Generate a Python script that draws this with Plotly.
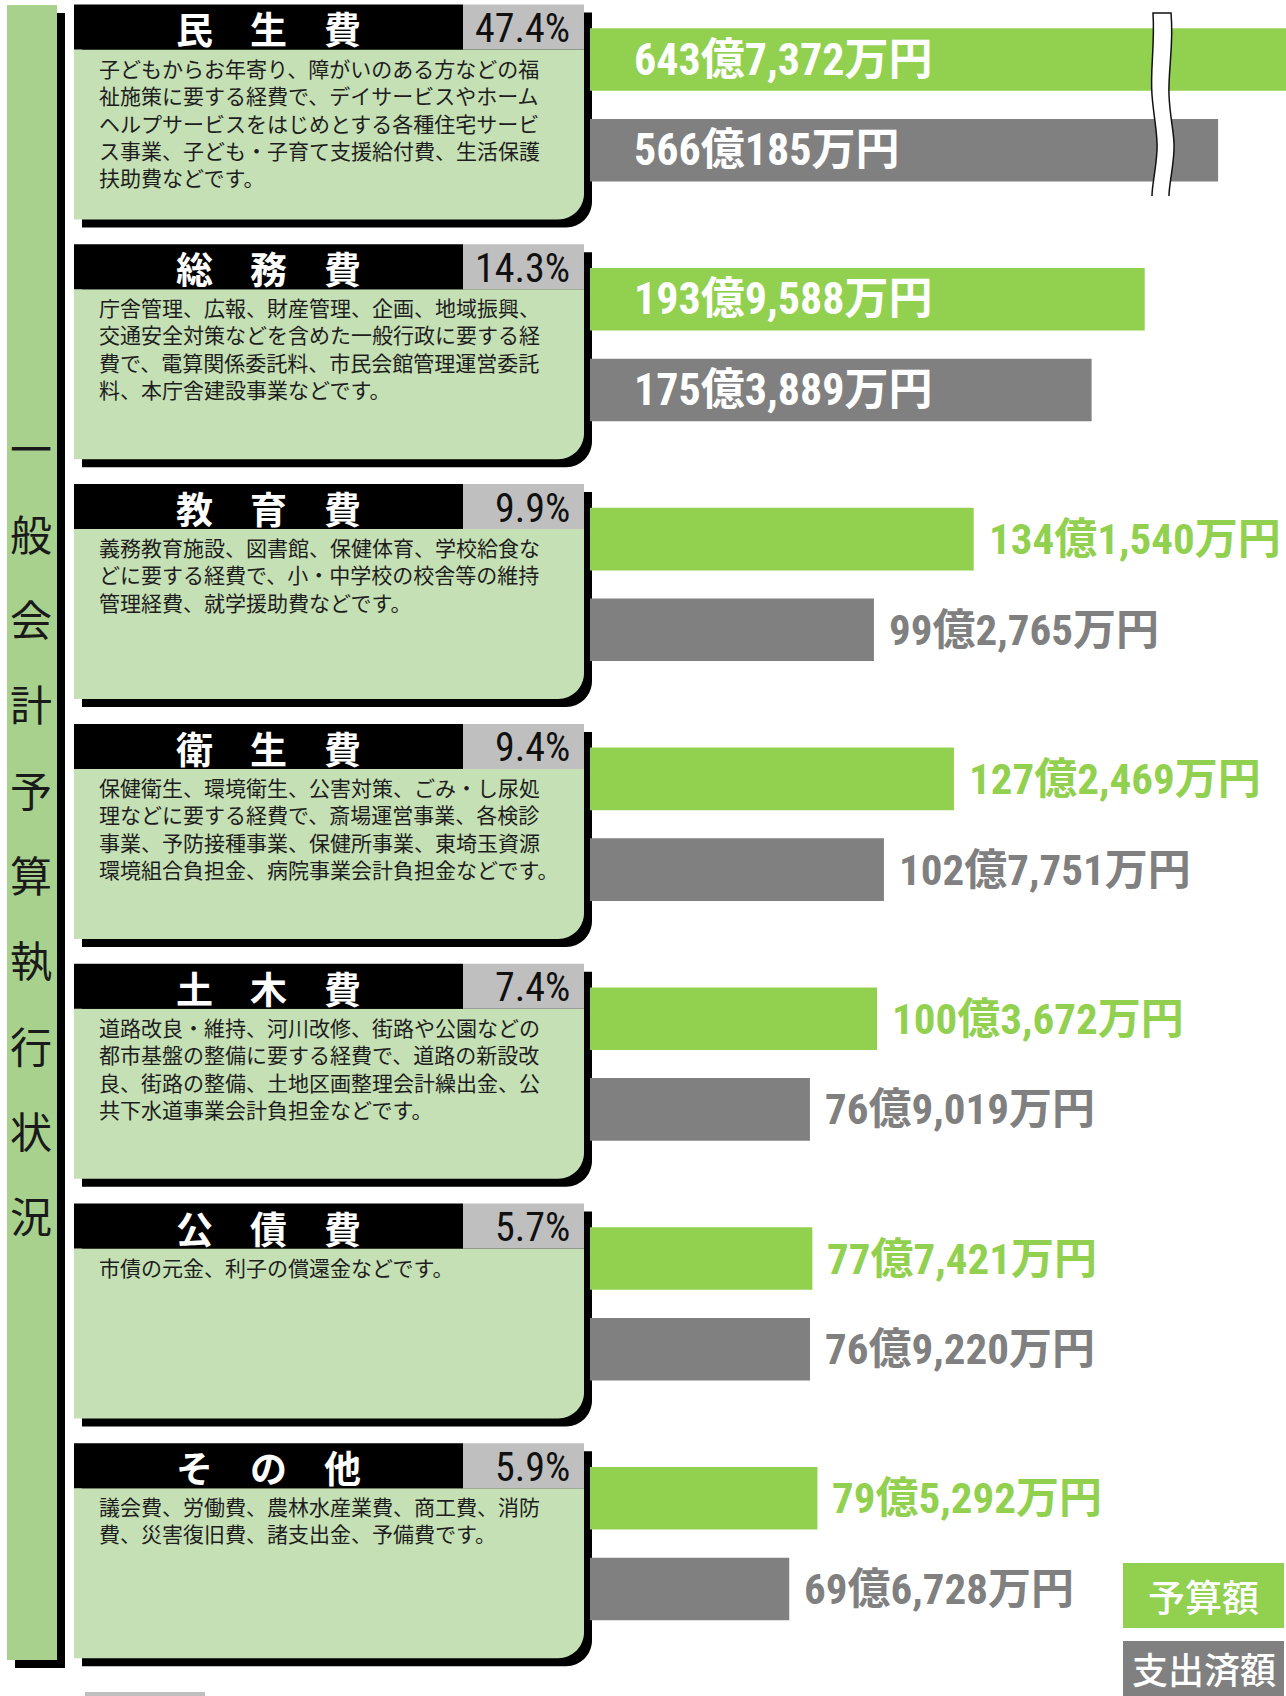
import plotly.graph_objects as go

W, H = 1286, 1696

# ---------------- data ----------------
categories = ["民生費", "総務費", "教育費", "衛生費", "土木費", "公債費", "その他"]
shares = [47.4, 14.3, 9.9, 9.4, 7.4, 5.7, 5.9]                      # 構成比 (%)
budget_man = [6437372, 1939588, 1341540, 1272469, 1003672, 777421, 795292]  # 予算額 (万円)
spent_man = [5660185, 1753889, 992765, 1027751, 769019, 769220, 696728]     # 支出済額 (万円)
series_names = ["予算額", "支出済額"]
descriptions = [
    "子どもからお年寄り、障がいのある方などの福<br>祉施策に要する経費で、デイサービスやホーム<br>ヘルプサービスをはじめとする各種住宅サービ<br>ス事業、子ども・子育て支援給付費、生活保護<br>扶助費などです。",
    "庁舎管理、広報、財産管理、企画、地域振興、<br>交通安全対策などを含めた一般行政に要する経<br>費で、電算関係委託料、市民会館管理運営委託<br>料、本庁舎建設事業などです。",
    "義務教育施設、図書館、保健体育、学校給食な<br>どに要する経費で、小・中学校の校舎等の維持<br>管理経費、就学援助費などです。",
    "保健衛生、環境衛生、公害対策、ごみ・し尿処<br>理などに要する経費で、斎場運営事業、各検診<br>事業、予防接種事業、保健所事業、東埼玉資源<br>環境組合負担金、病院事業会計負担金などです。",
    "道路改良・維持、河川改修、街路や公園などの<br>都市基盤の整備に要する経費で、道路の新設改<br>良、街路の整備、土地区画整理会計繰出金、公<br>共下水道事業会計負担金などです。",
    "市債の元金、利子の償還金などです。",
    "議会費、労働費、農林水産業費、商工費、消防<br>費、災害復旧費、諸支出金、予備費です。",
]
side_title = "一般会計予算執行状況"

# ---------------- style / layout constants (pixels) ----------------
GREEN = "#92d050"
GRAY = "#808080"
BODY = "#c5e0b4"
SIDE = "#a9d18e"
PCTBOX = "#bfbfbf"
CJK = "Noto Sans CJK JP"
NUM = "'Roboto Condensed', 'Liberation Sans Narrow', 'Arial Narrow', 'Noto Sans CJK JP', sans-serif"

T0, PITCH = 4.5, 239.8
TITLE_H, BODY_B = 45, 215
BX0, PX0, BX1 = 74, 463, 584
SH = 8
BAR_X0, BREAK_X, PX_PER = 590, 1162, 2.86
BREAK_LO = 546.4
CAT0, CATP = 55.0, 90.7


def fx(x):
    return x / W


def fy(y):
    return 1 - y / H


def P(x, y):
    return f"{fx(x):.5f},{fy(y):.5f}"


def rect_path(x0, y0, x1, y1, r=0):
    if r == 0:
        return f"M{P(x0, y0)} L{P(x1, y0)} L{P(x1, y1)} L{P(x0, y1)} Z"
    k = 0.5523 * r
    return (f"M{P(x0, y0)} L{P(x1, y0)} L{P(x1, y1 - r)} "
            f"C{P(x1, y1 - r + k)} {P(x1 - r + k, y1)} {P(x1 - r, y1)} L{P(x0, y1)} Z")


def shape(path, fill, layer="below", line=None):
    return dict(type="path", xref="paper", yref="paper", path=path, fillcolor=fill,
                line=line or dict(width=0), layer=layer)


def fmt(v):
    oku, man = divmod(v, 10000)
    return f"{oku}億{man:,}万円"


fig = go.Figure()
shapes, annots = [], []

# side bar
shapes.append(shape(rect_path(15, 13, 65, 1668), "#000000"))
shapes.append(shape(rect_path(7, 5, 57, 1660), SIDE))
for k, ch in enumerate(side_title):
    annots.append(dict(xref="paper", yref="paper", x=fx(31), y=fy(447 + 85.3 * k),
                       text=ch, showarrow=False, xanchor="center", yanchor="middle",
                       font=dict(family=CJK, size=42, color="#1a1a1a")))

layout_axes = {}
n = len(categories)
for i in range(n):
    T = T0 + PITCH * i
    # panel shapes
    shapes.append(shape(rect_path(BX0 + SH, T + SH, BX1 + SH, T + BODY_B + SH, 26), "#000000"))
    shapes.append(shape(rect_path(BX0, T + TITLE_H, BX1, T + BODY_B, 26), BODY))
    shapes.append(shape(rect_path(BX0, T, PX0, T + TITLE_H), "#000000"))
    shapes.append(shape(rect_path(PX0, T, BX1, T + TITLE_H), PCTBOX))
    yc = T + TITLE_H / 2 + 1.5
    annots.append(dict(xref="paper", yref="paper", x=fx((BX0 + PX0) / 2), y=fy(yc),
                       text="　".join(categories[i]), showarrow=False, xanchor="center", yanchor="middle",
                       font=dict(family=CJK, size=37, color="white", weight="bold")))
    annots.append(dict(xref="paper", yref="paper", x=fx(572), y=fy(yc),
                       text=f"{shares[i]:.1f}%", showarrow=False, xanchor="right", yanchor="middle",
                       font=dict(family=NUM, size=40, color="#111111")))
    annots.append(dict(xref="paper", yref="paper", x=fx(97), y=fy(T + 46),
                       text=descriptions[i], showarrow=False, xanchor="left", yanchor="top", align="left",
                       font=dict(family=CJK, size=21, color="#1e1e1e")))

    # axes for this panel
    yname = "yaxis" if i == 0 else f"yaxis{i + 1}"
    yref = "y" if i == 0 else f"y{i + 1}"
    top = T + CAT0 - CATP / 2
    bot = T + CAT0 + CATP * 1.5
    layout_axes[yname] = dict(domain=[fy(bot), fy(top)], type="category",
                              categoryorder="array", categoryarray=series_names,
                              range=[1.5, -0.5], visible=False, anchor="x", fixedrange=True)

    b, s = budget_man[i] / 10000, spent_man[i] / 10000
    fig.add_trace(go.Bar(x=[b, s], y=series_names, orientation="h", xaxis="x", yaxis=yref,
                         width=0.69, marker=dict(color=[GREEN, GRAY], line=dict(width=0)),
                         hoverinfo="skip", showlegend=False))
    inside = b > 150
    if i == 0:
        fig.add_trace(go.Bar(x=[b, s], y=series_names, orientation="h", xaxis="x2", yaxis=yref,
                             width=0.69, marker=dict(color=[GREEN, GRAY], line=dict(width=0)),
                             hoverinfo="skip", showlegend=False))
    for j, (v, vm) in enumerate([(b, budget_man[i]), (s, spent_man[i])]):
        if inside:
            annots.append(dict(xref="x", yref=yref, x=0, y=series_names[j], xshift=42,
                               text=fmt(vm), showarrow=False, xanchor="left", yanchor="middle",
                               font=dict(family=NUM, size=44, color="white", weight="bold")))
        else:
            annots.append(dict(xref="x", yref=yref, x=v, y=series_names[j], xshift=13,
                               text=fmt(vm), showarrow=False, xanchor="left", yanchor="middle",
                               font=dict(family=NUM, size=43, color=GREEN if j == 0 else GRAY,
                                         weight="bold")))

# axis break mark on panel 1
brk = (f"M{P(1152, 196)} C{P(1152, 185)} {P(1156, 170)} {P(1157, 150)} "
       f"C{P(1158, 135)} {P(1154, 120)} {P(1152, 95)} C{P(1150, 70)} {P(1155, 45)} {P(1153, 13)} "
       f"L{P(1171, 13)} C{P(1174, 45)} {P(1168, 70)} {P(1169, 95)} "
       f"C{P(1170, 120)} {P(1175, 135)} {P(1174, 150)} C{P(1173, 170)} {P(1169, 185)} {P(1169, 196)}")
shapes.append(shape(brk, "white", layer="above", line=dict(color="#111111", width=1.5)))

# legend boxes
shapes.append(shape(rect_path(1123, 1563, 1284, 1628), GREEN))
shapes.append(shape(rect_path(1123, 1641, 1284, 1710), GRAY))
annots.append(dict(xref="paper", yref="paper", x=fx(1203), y=fy(1596), text=series_names[0],
                   showarrow=False, xanchor="center", yanchor="middle",
                   font=dict(family=CJK, size=37, color="white", weight=500)))
annots.append(dict(xref="paper", yref="paper", x=fx(1204), y=fy(1668), text=series_names[1],
                   showarrow=False, xanchor="center", yanchor="middle",
                   font=dict(family=CJK, size=36, color="white", weight=500)))
# small gray key at the bottom (cut off)
shapes.append(shape(rect_path(85, 1692, 205, 1710), PCTBOX))

fig.update_layout(
    width=W, height=H, margin=dict(l=0, r=0, t=0, b=0),
    paper_bgcolor="white", plot_bgcolor="rgba(0,0,0,0)",
    barmode="overlay", showlegend=False,
    xaxis=dict(domain=[fx(BAR_X0), fx(BREAK_X)], range=[0, (BREAK_X - BAR_X0) / PX_PER],
               visible=False, anchor="y", fixedrange=True),
    xaxis2=dict(domain=[fx(BREAK_X), 1], range=[BREAK_LO, BREAK_LO + (W - BREAK_X) / PX_PER],
                visible=False, anchor="y", fixedrange=True),
    shapes=shapes, annotations=annots,
    **layout_axes,
)

fig.write_html("out.html", config={"displayModeBar": False},
               post_script="document.body.style.margin='0';")
